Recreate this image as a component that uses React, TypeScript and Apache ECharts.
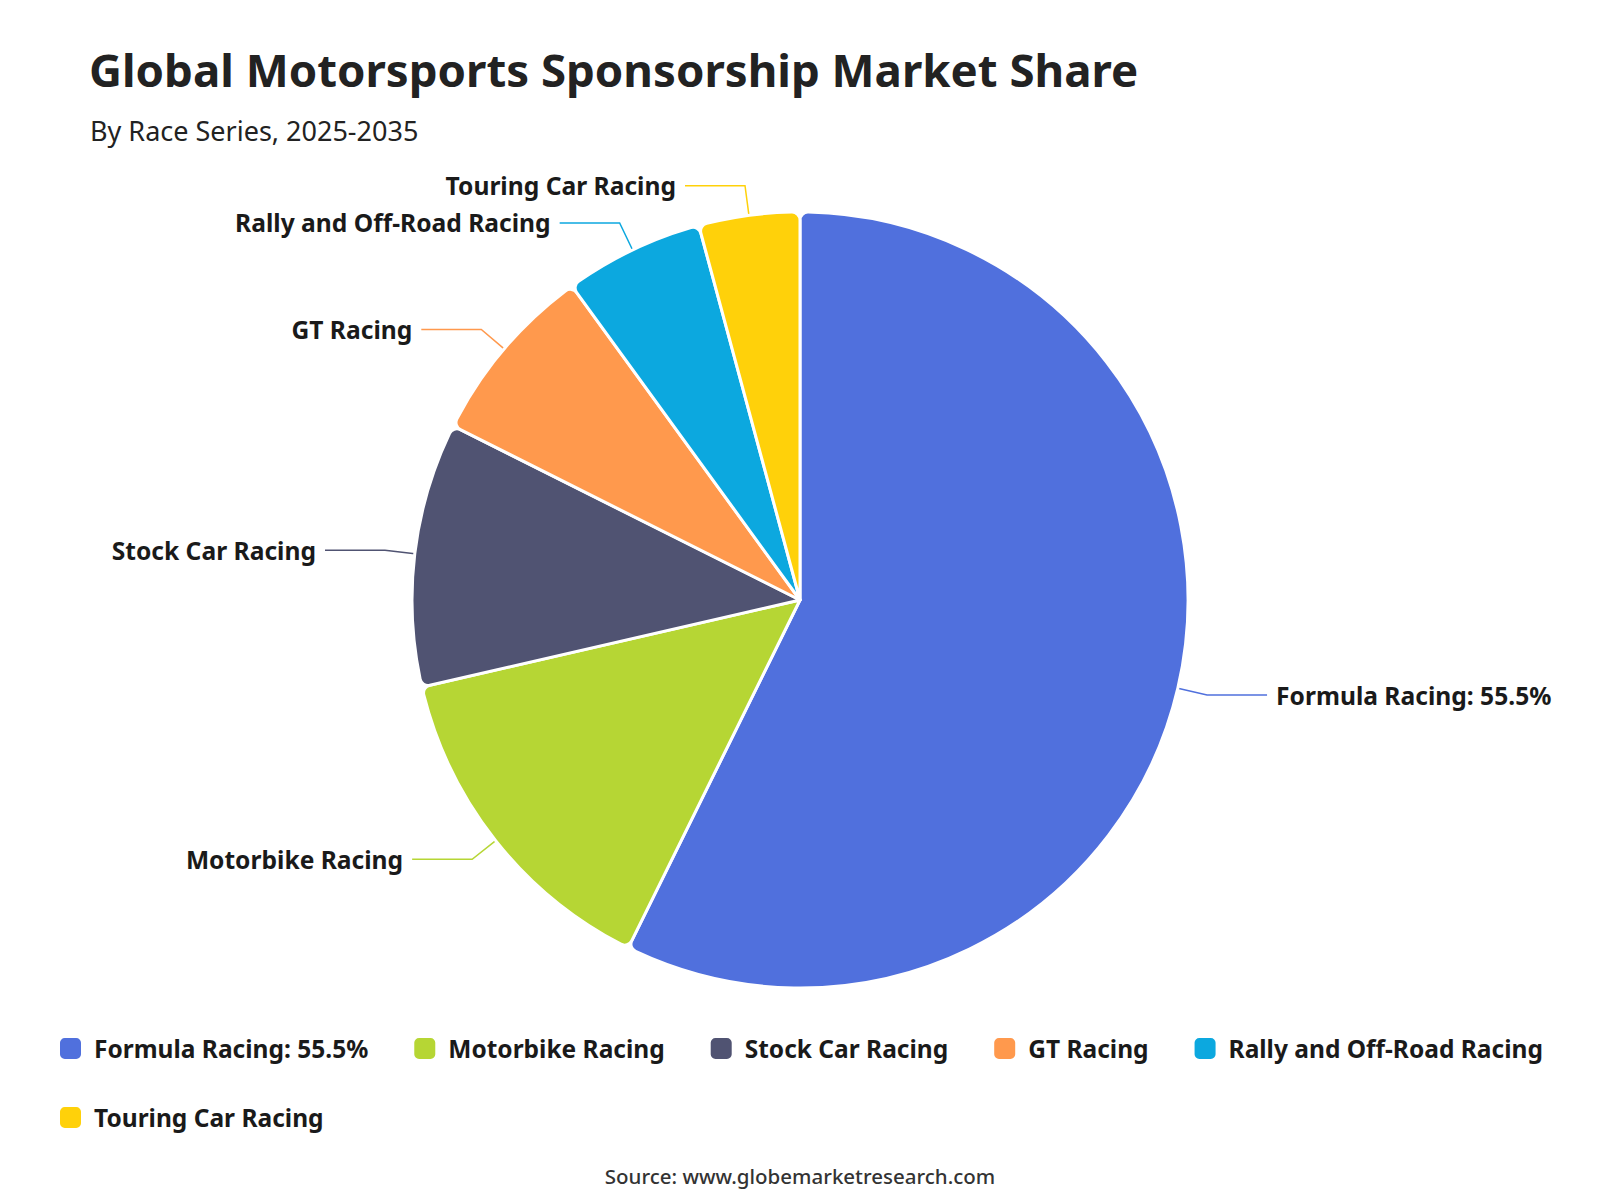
import React, { useEffect, useRef } from "react";
import * as echarts from "echarts";

const categories = [
  "Formula Racing: 55.5%",
  "Motorbike Racing",
  "Stock Car Racing",
  "GT Racing",
  "Rally and Off-Road Racing",
  "Touring Car Racing",
];
const shares = [57.3, 14.1, 11.0, 7.6, 5.8, 4.2];
const colors = ["#5070dd", "#b6d634", "#505372", "#ff994d", "#0ca8df", "#ffd10a"];

const titleText = "Global Motorsports Sponsorship Market Share";
const subtitleText = "By Race Series, 2025-2035";
const sourceText = "Source: www.globemarketresearch.com";

const FONT = "'Noto Sans', 'Open Sans', sans-serif";

export default function App() {
  const ref = useRef<HTMLDivElement>(null);
  useEffect(() => {
    if (!ref.current) return;
    const chart = echarts.init(ref.current, null, { renderer: "svg" });
    const data = categories.map((name, i) => ({
      name,
      value: shares[i],
      itemStyle: { color: colors[i] },
    }));
    chart.setOption({
      animation: false,
      backgroundColor: "#ffffff",
      color: colors,
      textStyle: { fontFamily: FONT },
      title: [
        {
          text: titleText,
          left: 89,
          top: 46,
          padding: 0,
          textStyle: { fontFamily: FONT, fontSize: 45.6, fontWeight: "bold", color: "#222222" },
        },
        {
          text: subtitleText,
          left: 90,
          top: 117,
          padding: 0,
          textStyle: { fontFamily: FONT, fontSize: 27, fontWeight: "normal", color: "#222222" },
        },
        {
          text: sourceText,
          left: "center",
          top: 1165,
          padding: 0,
          textStyle: { fontFamily: FONT, fontSize: 20.5, fontWeight: 500, color: "#333333" },
        },
      ],
      legend: {
        data: categories,
        left: 58,
        top: 1036,
        right: 20,
        padding: 0,
        icon: "roundRect",
        itemWidth: 23,
        itemHeight: 23,
        itemGap: 44,
        textStyle: {
          fontFamily: FONT,
          fontSize: 24.5,
          fontWeight: "bold",
          color: "#1a1a1a",
          padding: [0, 0, 0, 7],
        },
      },
      series: [
        {
          type: "pie",
          center: ["50%", "50%"],
          radius: 388,
          startAngle: 90,
          clockwise: true,
          data,
          itemStyle: { borderColor: "#ffffff", borderWidth: 3, borderRadius: 8 },
          label: {
            show: true,
            formatter: "{b}",
            fontFamily: FONT,
            fontSize: 24.6,
            fontWeight: "bold",
            color: "#1a1a1a",
            distanceToLabelLine: 9,
          },
          labelLine: {
            show: true,
            length: 30,
            length2: 60,
            lineStyle: { width: 1.5 },
          },
          emphasis: { disabled: true },
        },
      ],
    });
    return () => chart.dispose();
  }, []);
  return (
    <div
      ref={ref}
      style={{ position: "fixed", left: 0, top: 0, width: 1600, height: 1200 }}
    />
  );
}
